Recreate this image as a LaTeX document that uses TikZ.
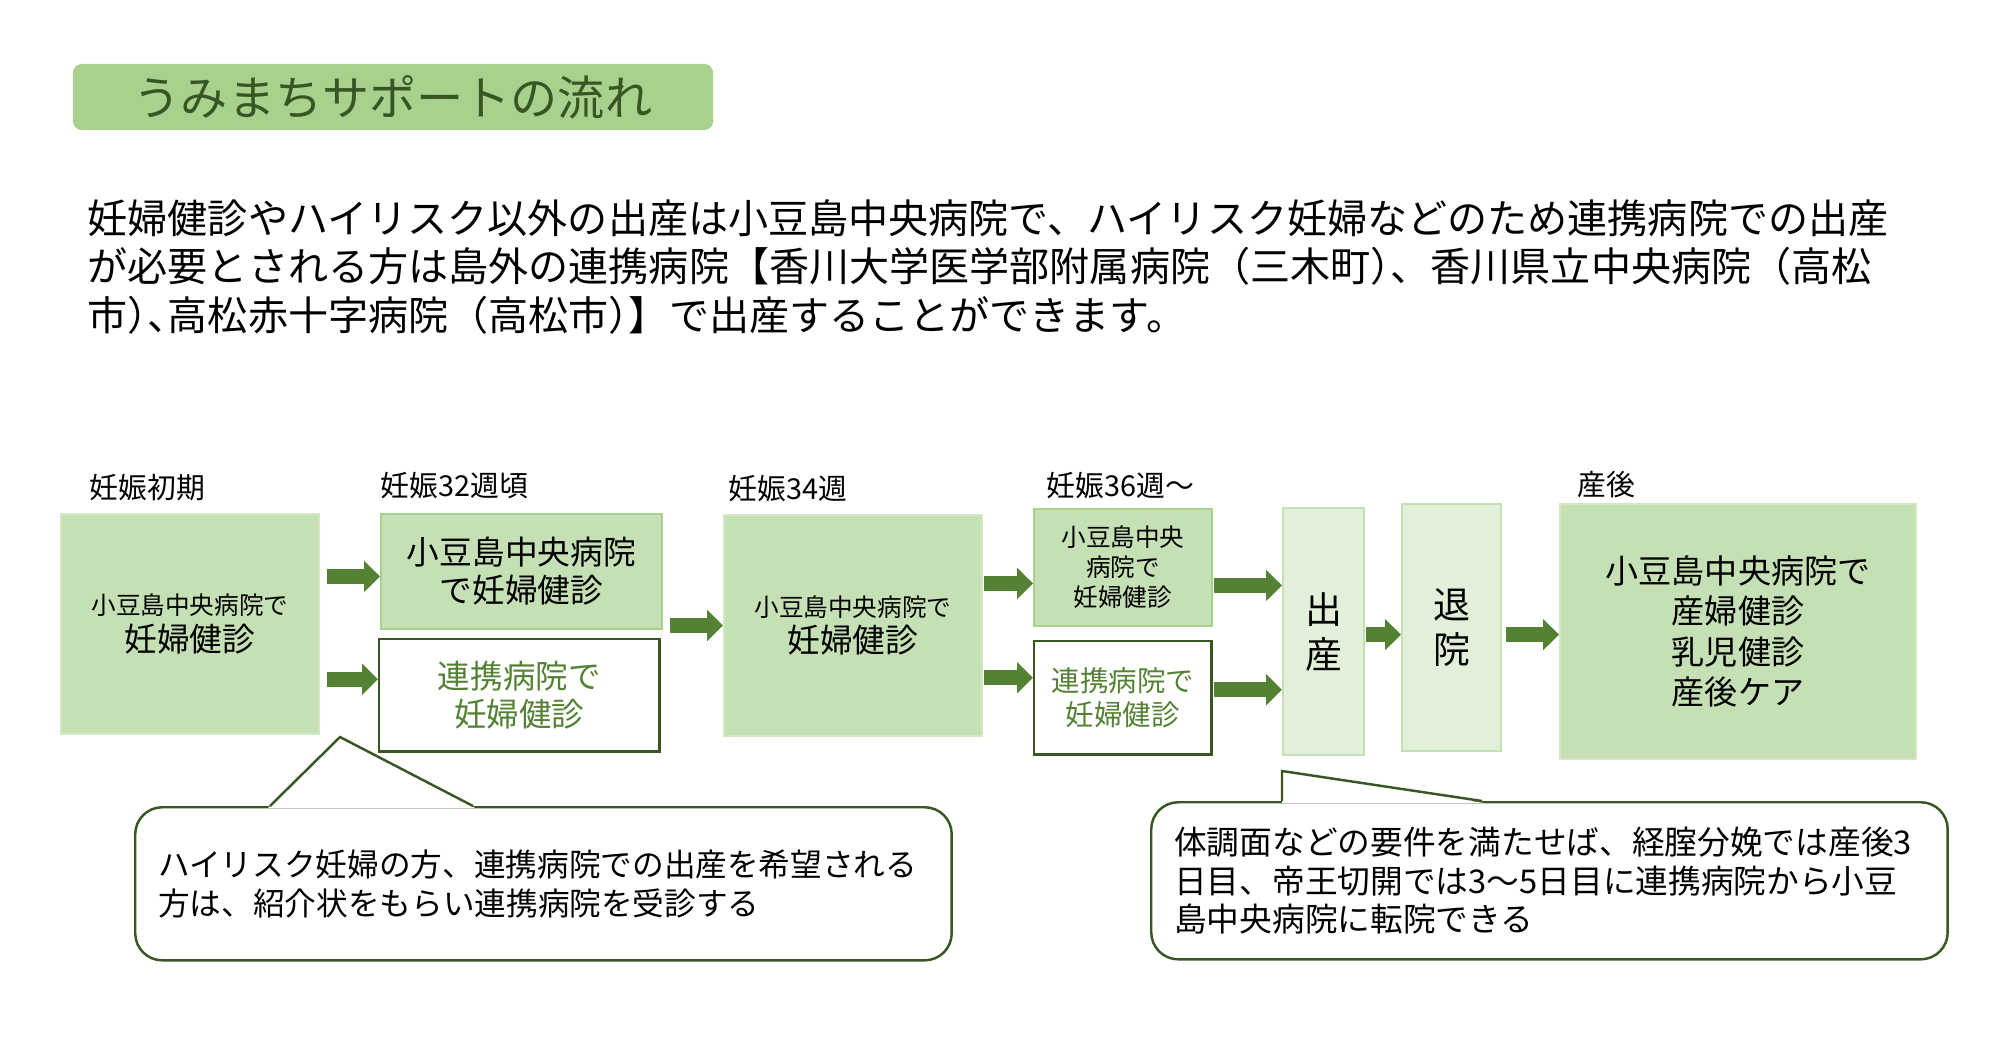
\documentclass[tikz,border=0pt]{standalone}
\usepackage{fontspec}
\setmainfont{Noto Sans CJK JP}
\usetikzlibrary{arrows.meta, positioning, calc}
\definecolor{umiTitle}{HTML}{A9D18E}
\definecolor{umiTitleText}{HTML}{375623}
\definecolor{umiBox}{HTML}{C5E0B4}
\definecolor{umiBoxEdge}{HTML}{D3E7C5}
\definecolor{umiPale}{HTML}{E2F0D9}
\definecolor{umiArrow}{HTML}{548235}
\definecolor{umiDark}{HTML}{385723}
\newcommand{\fsz}[2]{\fontsize{#1pt}{#2pt}\selectfont}
\newcommand{\hw}[1]{{\addfontfeature{RawFeature=+halt}#1}}
\tikzset{
  flowarrow/.style={-{Triangle[length=4.5pt, width=8.6pt]}, line width=4.3pt, umiArrow},
  boxG/.style={rectangle, fill=umiBox, draw=umiBoxEdge, line width=0.5pt,
               align=center, inner sep=0pt, anchor=north west},
  boxW/.style={rectangle, fill=white, draw=umiDark, line width=0.7pt, text=umiArrow,
               align=center, inner sep=0pt, anchor=north west},
  boxP/.style={rectangle, fill=umiPale, draw=umiBox, line width=0.6pt,
               align=center, inner sep=0pt, anchor=north west, font=\fsz{10.5}{12.8}},
  stage/.style={inner sep=0pt, anchor=south west, font=\fsz{8.2}{9}},
  noteBox/.style={rectangle, rounded corners=2.7mm, draw=umiDark, line width=0.7pt,
                  fill=white, align=left, inner ysep=0pt, inner xsep=2.3mm, anchor=north west},
  noteLine/.style={umiDark, line width=0.7pt},
}
\begin{document}
\begin{tikzpicture}[x=0.01cm, y=-0.01cm]
    \useasboundingbox (0,0) rectangle (2000,1054);
    % title and introduction
    \node[fill=umiTitle, rounded corners=0.9mm, minimum width=6.40cm, minimum height=0.66cm,
          text=umiTitleText, font=\fsz{13.4}{16}, inner sep=0pt] (title) at (393,97) {うみまちサポートの流れ};
    \node[anchor=north west, align=left, inner sep=0pt, font=\fsz{11.4}{13.75}] (intro) at (87,199)
      {妊婦健診やハイリスク以外の出産は小豆島中央病院で、ハイリスク妊婦などのため連携病院での出産\\
       が必要とされる方は島外の連携病院【香川大学医学部附属病院（三木町\hw{）}、香川県立中央病院（高松\\
       市\hw{）、}高松赤十字病院（高松市\hw{）}】で出産することができます。};

    % flow boxes
    \node[boxG, minimum width=2.58cm, minimum height=2.20cm, font=\fsz{9.3}{10.5}] (b1) at (60,513)
      {{\fsz{7}{8}小豆島中央病院で}\\妊婦健診};
    \node[boxG, draw=umiTitle, minimum width=2.81cm, minimum height=1.15cm, font=\fsz{9.3}{10.8}] (b2top) at (380,513)
      {小豆島中央病院\\で妊婦健診};
    \node[boxW, minimum width=2.80cm, minimum height=1.12cm, font=\fsz{9.25}{11}] (b2bot) at (378,638)
      {連携病院で\\妊婦健診};
    \node[boxG, minimum width=2.58cm, minimum height=2.21cm, font=\fsz{9.3}{10.5}] (b3) at (723,514)
      {{\fsz{7}{8}小豆島中央病院で}\\妊婦健診};
    \node[boxG, draw=umiTitle, minimum width=1.78cm, minimum height=1.17cm, font=\fsz{7}{8.5}] (b4top) at (1033,508)
      {小豆島中央\\病院で\\妊婦健診};
    \node[boxW, minimum width=1.77cm, minimum height=1.13cm, font=\fsz{8.1}{9.7}] (b4bot) at (1033,640)
      {連携病院で\\妊婦健診};
    \node[boxP, minimum width=0.81cm, minimum height=2.47cm] (birth) at (1282,507) {出\\産};
    \node[boxP, minimum width=0.99cm, minimum height=2.47cm] (disch) at (1401,503) {退\\院};
    \node[boxG, minimum width=3.56cm, minimum height=2.55cm, font=\fsz{9.4}{11.5}] (post) at (1559,503)
      {小豆島中央病院で\\産婦健診\\乳児健診\\産後ケア};

    % stage labels
    \node[stage, above right=0.115cm and 0.29cm of b1.north west] (s1) {妊娠初期};
    \node[stage, above right=0.13cm and 0cm of b2top.north west] (s2) {妊娠32週頃};
    \node[stage, above right=0.11cm and 0.05cm of b3.north west] (s3) {妊娠34週};
    \node[stage, above right=0.08cm and 0.13cm of b4top.north west] (s4) {妊娠36週〜};
    \node[stage, above right=0.04cm and 0.18cm of post.north west] (s5) {産後};

    % arrows
    \draw[flowarrow] ($(b1.east |- b2top.west)+(7,5)$) -- ($(b2top.west)+(0,5)$);
    \draw[flowarrow] ($(b1.east |- b2bot.west)+(7,-16)$) -- ($(b2bot.west)+(0,-16)$);
    \draw[flowarrow] ($(b2top.east |- b3.west)+(7,0)$) -- (b3.west);
    \draw[flowarrow] ($(b3.east |- b4top.west)+(1,16)$) -- ($(b4top.west)+(0,16)$);
    \draw[flowarrow] ($(b3.east |- b4bot.west)+(1,-20)$) -- ($(b4bot.west)+(0,-20)$);
    \draw[flowarrow] ($(b4top.east)+(1,18)$) -- ($(birth.west |- b4top.east)+(0,18)$);
    \draw[flowarrow] ($(b4bot.east)+(1,-8)$) -- ($(birth.west |- b4bot.east)+(0,-8)$);
    \draw[flowarrow] ($(birth.east)+(1,3)$) -- ($(disch.west |- birth.east)+(0,3)$);
    \draw[flowarrow] ($(disch.east)+(4,7)$) -- ($(post.west |- disch.east)+(0,7)$);

    % callouts
    \node[noteBox, minimum width=8.16cm, minimum height=1.53cm, text width=7.70cm,
          font=\fsz{9.0}{11.2}] (note1) at (134,806)
      {ハイリスク妊婦の方、連携病院での出産を希望される\\方は、紹介状をもらい連携病院を受診する};
    \coordinate (tip1) at (340,737);
    \fill[white] ($(note1.north west)+(134,2)$) -- (tip1) -- ($(note1.north west)+(341,2)$) -- cycle;
    \draw[noteLine] ($(note1.north west)+(136,0)$) -- (tip1) -- ($(note1.north west)+(339,0)$);

    \node[noteBox, minimum width=7.96cm, minimum height=1.57cm, text width=7.50cm,
          font=\fsz{9.3}{11}] (note2) at (1150,801)
      {体調面などの要件を満たせば、経腟分娩では産後3\\日目、帝王切開では3〜5日目に連携病院から小豆\\島中央病院に転院できる};
    \coordinate (tip2) at (1282,771);
    \fill[white] ($(note2.north west)+(132,2)$) -- (tip2) -- ($(note2.north west)+(334,2)$) -- cycle;
    \draw[noteLine] ($(note2.north west)+(132,0)$) -- (tip2) -- ($(note2.north west)+(332,0)$);
\end{tikzpicture}
\end{document}
